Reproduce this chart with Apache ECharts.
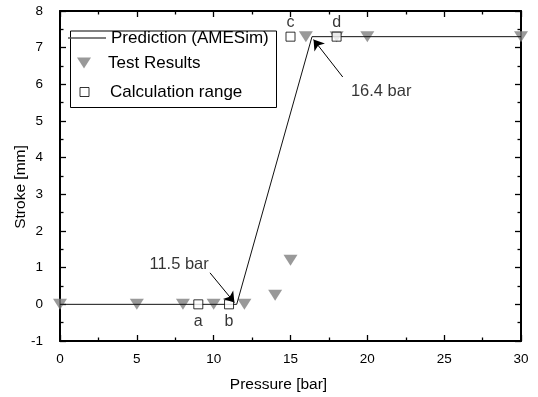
<!DOCTYPE html>
<html>
<head>
<meta charset="utf-8">
<script src="https://cdn.jsdelivr.net/npm/echarts@6/dist/echarts.min.js"></script>
<style>
  html, body { margin: 0; padding: 0; background: #fff; }
  #chart { width: 538px; height: 397px; }
</style>
</head>
<body>
<div id="chart"></div>
<script>
// prediction curve (AMESim)
const predX = [0, 11.5, 16.4, 30];
const predY = [0, 0, 7.3, 7.3];

// test results
const testX = [0, 5, 8, 10, 12, 14, 15, 16, 18, 20, 30];
const testY = [0, 0, 0, 0, 0, 0.25, 1.2, 7.3, 7.3, 7.3, 7.3];

// calculation range points
const calcX = [9, 11, 15, 18];
const calcY = [0, 0, 7.3, 7.3];
const calcNames = ['a', 'b', 'c', 'd'];

// annotations: text position and arrow from -> to
const noteText = ['11.5 bar', '16.4 bar'];
const noteX = [7.75, 20.9];
const noteY = [1.08, 5.8];
const arrowFrom = [[9.76, 0.86], [18.4, 6.2]];
const arrowTo = [[11.35, 0.05], [16.5, 7.22]];

const FONT = 'Liberation Sans, Arial, sans-serif';
const TRI = 'path://M0,0L14,0L7,11Z';

let chartDom = document.getElementById('chart');
let myChart = echarts.init(chartDom, null, { renderer: 'canvas' });

const axisCommon = {
  axisLine: { show: true, onZero: false, lineStyle: { color: '#000', width: 2 } },
  axisTick: { show: true, inside: true, length: 6, lineStyle: { color: '#000', width: 1.3 } },
  minorTick: { show: true, splitNumber: 2, length: 3.5, lineStyle: { color: '#000', width: 1.3 } },
  splitLine: { show: false }
};

const legendText = { fontSize: 17, color: '#000', lineHeight: 20, fontFamily: FONT };

let option = {
  backgroundColor: '#fff',
  animation: false,
  textStyle: { fontFamily: FONT },
  grid: { left: 60, right: 17, top: 11, bottom: 56, containLabel: false, outerBoundsMode: 'none' },
  xAxis: [
    Object.assign({
      type: 'value', min: 0, max: 30, interval: 5, position: 'bottom',
      name: 'Pressure [bar]', nameLocation: 'middle', nameGap: 36,
      nameTextStyle: { fontSize: 15.5, color: '#000', fontFamily: FONT, padding: [0, 24, 0, 0] },
      axisLabel: { fontSize: 13.5, color: '#000', margin: 11, fontFamily: FONT }
    }, axisCommon),
    Object.assign({
      type: 'value', min: 0, max: 30, interval: 5, position: 'top',
      axisLabel: { show: false }
    }, axisCommon)
  ],
  yAxis: [
    Object.assign({
      type: 'value', min: -1, max: 8, interval: 1, position: 'left',
      name: 'Stroke [mm]', nameLocation: 'middle', nameGap: 31, nameMoveOverlap: false,
      nameTextStyle: { fontSize: 15.5, color: '#000', fontFamily: FONT, padding: [0, 22, 0, 0] },
      axisLabel: { fontSize: 13.5, color: '#000', margin: 17, fontFamily: FONT }
    }, axisCommon),
    Object.assign({
      type: 'value', min: -1, max: 8, interval: 1, position: 'right',
      axisLabel: { show: false }
    }, axisCommon)
  ],
  legend: [
    {
      data: [{ name: 'Prediction (AMESim)', icon: 'rect', itemStyle: { color: '#555' } }],
      left: 68, top: 28, padding: 0,
      itemWidth: 38, itemHeight: 1.3,
      textStyle: legendText
    },
    {
      data: [{ name: 'Test Results', icon: TRI }],
      left: 77, top: 53, padding: 0,
      itemWidth: 14, itemHeight: 11,
      textStyle: Object.assign({ padding: [0, 0, 0, 12] }, legendText)
    },
    {
      data: [{ name: 'Calculation range', icon: 'rect', itemStyle: { color: '#fff', borderColor: '#000', borderWidth: 1 } }],
      left: 79.5, top: 82, padding: 0,
      itemWidth: 9, itemHeight: 9,
      textStyle: Object.assign({ padding: [0, 0, 0, 16] }, legendText)
    }
  ],
  graphic: [
    {
      type: 'rect', left: 68, top: 28.5, z: 0,
      shape: { width: 206, height: 76.5 },
      style: { fill: 'none', stroke: '#000', lineWidth: 1 }
    }
  ],
  series: [
    {
      name: 'Test Results',
      type: 'scatter',
      symbol: TRI,
      symbolSize: [14, 11],
      itemStyle: { color: '#808080' },
      data: testX.map((x, i) => [x, testY[i]]),
      z: 2
    },
    {
      name: 'Prediction (AMESim)',
      type: 'line',
      symbol: 'none',
      lineStyle: { color: '#111', width: 1 },
      itemStyle: { color: '#555' },
      data: predX.map((x, i) => [x, predY[i]]),
      z: 3
    },
    {
      name: 'Calculation range',
      type: 'scatter',
      symbol: 'rect',
      symbolSize: 9,
      itemStyle: { color: '#fff', borderColor: '#000', borderWidth: 1 },
      data: calcX.map((x, i) => ({
        value: [x, calcY[i]],
        label: {
          show: true,
          formatter: calcNames[i],
          position: i < 2 ? 'bottom' : 'top',
          distance: i < 2 ? 4 : 1,
          fontSize: 16,
          color: '#000',
          fontFamily: FONT
        }
      })),
      z: 4
    },
    {
      name: 'notes',
      type: 'scatter',
      symbolSize: 0,
      silent: true,
      data: noteX.map((x, i) => ({
        value: [x, noteY[i]],
        label: {
          show: true, position: 'inside', formatter: noteText[i],
          fontSize: 16.5, color: '#000', fontFamily: FONT
        }
      })),
      z: 5
    },
    {
      name: 'arrows',
      type: 'line',
      symbol: 'none',
      silent: true,
      data: [],
      markLine: {
        silent: true,
        symbol: ['none', 'arrow'],
        symbolSize: 10,
        label: { show: false },
        itemStyle: { color: '#000' },
        lineStyle: { color: '#000', width: 1, type: 'solid' },
        emphasis: { disabled: true },
        data: arrowFrom.map((p, i) => [
          { coord: p, symbol: 'none' },
          { coord: arrowTo[i], symbol: 'arrow', symbolSize: 10 }
        ])
      },
      z: 5
    }
  ]
};

myChart.setOption(option);
window.addEventListener('resize', () => {
  myChart.resize();
});
</script>
</body>
</html>
